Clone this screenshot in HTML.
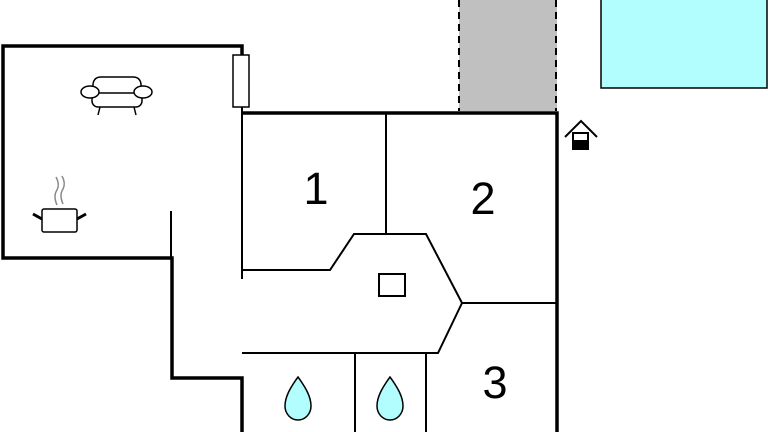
<!DOCTYPE html>
<html><head><style>
html,body{margin:0;padding:0;background:#fff;width:768px;height:432px;overflow:hidden}
text{font-family:"Liberation Sans",sans-serif}
</style></head><body>
<svg width="768" height="432" viewBox="0 0 768 432" xmlns="http://www.w3.org/2000/svg">
<rect x="459" y="0" width="98" height="111" fill="#c0c0c0"/>
<line x1="459" y1="0" x2="459" y2="111" stroke="#000" stroke-width="2" stroke-dasharray="7,5"/>
<line x1="556" y1="0" x2="556" y2="111" stroke="#000" stroke-width="2" stroke-dasharray="7,5"/>
<rect x="601" y="-2" width="166" height="90" fill="#b2feff" stroke="#000" stroke-width="1.5"/>
<g fill="none" stroke="#000" stroke-width="3.5">
<polyline points="242,55 242,46 3,46 3,258 172,258 172,378 242,378 242,432"/>
<polyline points="241,113 557,113 557,432"/>
</g>
<rect x="233" y="55" width="16" height="52" fill="#fff" stroke="#000" stroke-width="1.5"/>
<g fill="none" stroke="#000" stroke-width="2">
<line x1="242" y1="107" x2="242" y2="279"/>
<line x1="171" y1="211" x2="171" y2="258"/>
<line x1="386" y1="113" x2="386" y2="234"/>
<polyline points="242,270 330,270 354,234 426,234 462,303 557,303"/>
<polyline points="462,303 438,353 242,353"/>
<line x1="355" y1="353" x2="355" y2="432"/>
<line x1="426" y1="353" x2="426" y2="432"/>
<rect x="379" y="274" width="26" height="22"/>
</g>
<text x="316" y="204" font-size="45" text-anchor="middle">1</text>
<text x="483" y="214" font-size="45" text-anchor="middle">2</text>
<text x="495" y="398" font-size="45" text-anchor="middle">3</text>
<g fill="#b2feff" stroke="#000" stroke-width="1.5">
<path d="M298,377 C306,388 311,397 311,406 C311,414 305,420 298,420 C291,420 285,414 285,406 C285,397 290,388 298,377Z"/>
<path d="M390,377 C398,388 403,397 403,406 C403,414 397,420 390,420 C383,420 377,414 377,406 C377,397 382,388 390,377Z"/>
</g>
<!-- armchair -->
<g fill="#fff" stroke="#000" stroke-width="1.5">
<path d="M93,95 L93,84 Q94,77 101,77 L133,77 Q140,77 141,84 L141,95 Z"/>
<rect x="92" y="93" width="50" height="14" rx="6"/>
<ellipse cx="90" cy="92" rx="9" ry="6"/>
<ellipse cx="143" cy="92" rx="9" ry="6"/>
<line x1="100" y1="107" x2="98" y2="115"/>
<line x1="134" y1="107" x2="136" y2="115"/>
</g>
<!-- pot -->
<g stroke="#000" fill="none">
<rect x="42" y="209" width="35" height="23" rx="2" stroke-width="1.5" fill="#fff"/>
<line x1="33" y1="214" x2="42" y2="219" stroke-width="3"/>
<line x1="86" y1="214" x2="77" y2="219" stroke-width="3"/>
<path d="M57,205 Q53,196 57,190 Q60,184 56,177" stroke="#888" stroke-width="1.5"/>
<path d="M63,204 Q59,195 63,189 Q66,183 62,176" stroke="#888" stroke-width="1.5"/>
</g>
<!-- house icon -->
<g stroke="#000" stroke-width="2" fill="none">
<polyline points="565,137 581,121 597,137"/>
<rect x="573" y="133" width="15" height="16" fill="#fff"/>
<rect x="573" y="141" width="15" height="8" fill="#000"/>
</g>
</svg>
</body></html>
